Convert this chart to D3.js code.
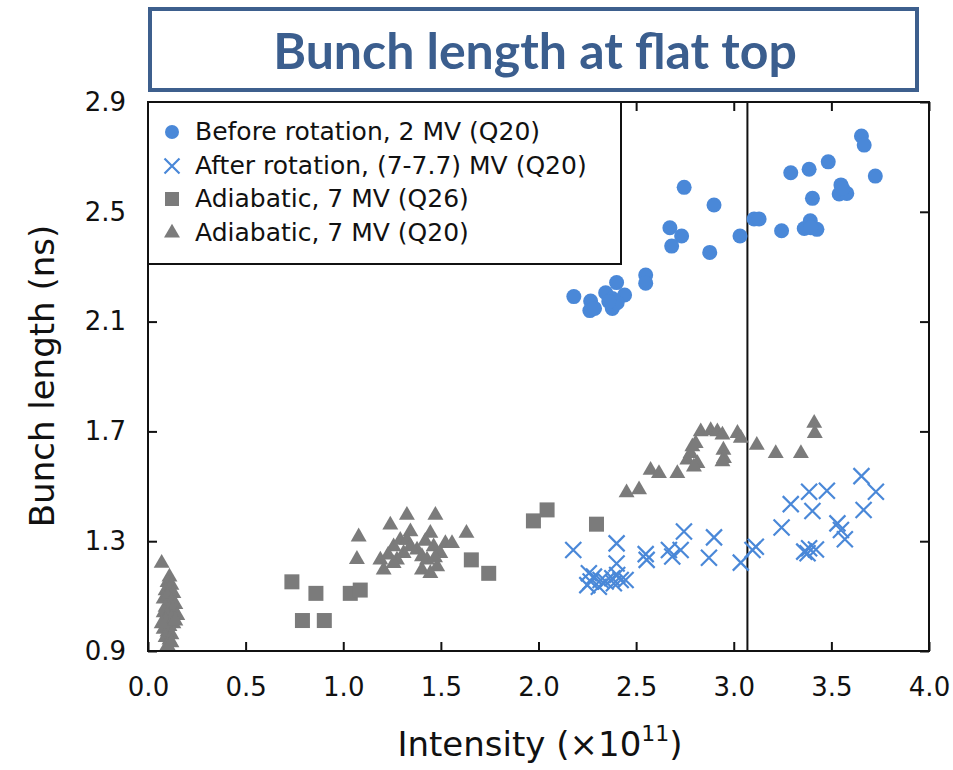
<!DOCTYPE html>
<html lang="en">
<head>
<meta charset="UTF-8">
<title>Bunch length at flat top</title>
<script src="https://d3js.org/d3.v7.min.js"></script>
<style>
	body { margin: 0; background: #fff; }
	svg { display: block; }
	.tick text { font-family: "DejaVu Sans", sans-serif; }
</style>
</head>
<body>
<div id="chart"></div>
<script>

	// ---- data ----
	var xTicks = [0, 0.5, 1, 1.5, 2, 2.5, 3, 3.5, 4];
	var yTicks = [0.9, 1.3, 1.7, 2.1, 2.5, 2.9];
	var markerLine = 3.07;

	var beforeRot = [
		[2.746, 2.589], [2.899, 2.525], [2.673, 2.442], [2.733, 2.412], [2.682, 2.375],
		[2.877, 2.352], [3.032, 2.412], [3.104, 2.474], [3.130, 2.474], [3.245, 2.431],
		[3.361, 2.439], [3.392, 2.467], [3.426, 2.436], [3.395, 2.442], [3.292, 2.642],
		[3.386, 2.655], [3.484, 2.682], [3.403, 2.549], [3.549, 2.598], [3.540, 2.565],
		[3.579, 2.567], [3.557, 2.585], [3.654, 2.776], [3.668, 2.743], [3.725, 2.630],
		[2.181, 2.191], [2.267, 2.175], [2.263, 2.140], [2.287, 2.148], [2.344, 2.205],
		[2.378, 2.184], [2.400, 2.242], [2.441, 2.197], [2.378, 2.148], [2.403, 2.169],
		[2.360, 2.173], [2.549, 2.270], [2.549, 2.240]
	];

	var afterRot = [
		[2.178, 1.268], [2.400, 1.292], [2.400, 1.219], [2.258, 1.183], [2.267, 1.153],
		[2.284, 1.171], [2.309, 1.134], [2.344, 1.153], [2.378, 1.165], [2.403, 1.177],
		[2.421, 1.159], [2.446, 1.159], [2.250, 1.140], [2.318, 1.159], [2.386, 1.147],
		[2.549, 1.253], [2.554, 1.232], [2.668, 1.268], [2.685, 1.244], [2.728, 1.268],
		[2.745, 1.335], [2.873, 1.240], [2.899, 1.314], [3.036, 1.222], [3.113, 1.280],
		[3.096, 1.268], [3.245, 1.350], [3.292, 1.435], [3.386, 1.480], [3.477, 1.484],
		[3.403, 1.410], [3.361, 1.262], [3.386, 1.274], [3.421, 1.270], [3.378, 1.256],
		[3.531, 1.365], [3.549, 1.341], [3.569, 1.307], [3.654, 1.537], [3.728, 1.480],
		[3.665, 1.414]
	];

	var adiabQ26 = [
		[0.737, 1.152], [0.860, 1.110], [0.791, 1.011], [0.903, 1.011], [1.036, 1.110],
		[1.087, 1.122], [1.656, 1.232], [1.745, 1.183], [1.974, 1.374], [2.044, 1.414],
		[2.297, 1.362]
	];

	var adiabQ20 = [
		// near-zero column
		[0.07, 1.22], [0.11, 1.17], [0.10, 1.15], [0.12, 1.14], [0.09, 1.12], [0.11, 1.12],
		[0.13, 1.11], [0.08, 1.09], [0.10, 1.10], [0.12, 1.08], [0.14, 1.07], [0.09, 1.06],
		[0.11, 1.05], [0.13, 1.05], [0.08, 1.04], [0.15, 1.03], [0.10, 1.03], [0.12, 1.02],
		[0.09, 1.01], [0.11, 0.99], [0.13, 1.00], [0.08, 0.98], [0.10, 0.97], [0.12, 0.96],
		[0.09, 0.95], [0.11, 0.94], [0.10, 0.92], [0.12, 0.93], [0.14, 1.01], [0.07, 1.00],
		// 1.0 - 1.7 cluster
		[1.079, 1.316], [1.070, 1.234], [1.241, 1.359], [1.326, 1.395], [1.472, 1.395],
		[1.344, 1.335], [1.631, 1.329], [1.190, 1.232], [1.207, 1.195], [1.258, 1.280],
		[1.275, 1.232], [1.292, 1.304], [1.309, 1.256], [1.378, 1.268], [1.403, 1.195],
		[1.429, 1.232], [1.446, 1.329], [1.463, 1.280], [1.481, 1.207], [1.497, 1.256],
		[1.523, 1.292], [1.557, 1.292], [1.403, 1.244], [1.258, 1.219], [1.326, 1.304],
		[1.446, 1.183], [1.344, 1.280], [1.230, 1.250], [1.420, 1.300], [1.470, 1.240],
		// 2.4 - 3.5
		[2.451, 1.477], [2.515, 1.488], [2.574, 1.559], [2.617, 1.547], [2.711, 1.547],
		[2.762, 1.596], [2.779, 1.620], [2.788, 1.644], [2.805, 1.656], [2.814, 1.583],
		[2.796, 1.571], [2.831, 1.699], [2.882, 1.703], [2.916, 1.699], [2.942, 1.687],
		[3.019, 1.693], [3.036, 1.675], [2.947, 1.632], [2.950, 1.602], [2.942, 1.590],
		[3.118, 1.650], [3.215, 1.620], [3.344, 1.620], [3.412, 1.730], [3.415, 1.693]
	];

	var legendLabels = [
		"Before rotation, 2 MV (Q20)",
		"After rotation, (7-7.7) MV (Q20)",
		"Adiabatic, 7 MV (Q26)",
		"Adiabatic, 7 MV (Q20)"
	];

	var blue = "#4a88d8";
	var grey = "#7b7b7b";

	// ---- layout ----
	var W = 953, H = 770;
	var pL = 148, pR = 929, pT = 102, pB = 651;

	var svg = d3.select("#chart").append("svg")
		.attr("width", W)
		.attr("height", H);

	var x = d3.scaleLinear().domain([0, 4]).range([pL, pR]);
	var y = d3.scaleLinear().domain([0.9, 2.9]).range([pB, pT]);

	// title box
	svg.append("rect")
		.attr("x", 150).attr("y", 9)
		.attr("width", 767).attr("height", 81)
		.attr("fill", "#fff")
		.attr("stroke", "#3d5f8d")
		.attr("stroke-width", 4);
	svg.append("text")
		.attr("x", 535).attr("y", 69)
		.attr("text-anchor", "middle")
		.attr("font-family", "Lato, 'Open Sans', sans-serif")
		.attr("font-weight", "bold")
		.attr("font-size", 50)
		.attr("fill", "#3b5e8e")
		.text("Bunch length at flat top");

	// axes (ticks point inwards)
	var fmt = d3.format(".1f");
	var gx = svg.append("g").attr("transform", "translate(0," + pB + ")")
		.call(d3.axisBottom(x).tickValues(xTicks).tickFormat(fmt).tickSizeInner(-9).tickSizeOuter(0).tickPadding(27));
	var gxt = svg.append("g").attr("transform", "translate(0," + pT + ")")
		.call(d3.axisTop(x).tickValues(xTicks).tickFormat("").tickSizeInner(-9).tickSizeOuter(0));
	var gy = svg.append("g").attr("transform", "translate(" + pL + ",0)")
		.call(d3.axisLeft(y).tickValues(yTicks).tickFormat(fmt).tickSizeInner(-9).tickSizeOuter(0).tickPadding(22));
	var gyr = svg.append("g").attr("transform", "translate(" + pR + ",0)")
		.call(d3.axisRight(y).tickValues(yTicks).tickFormat("").tickSizeInner(-9).tickSizeOuter(0));

	[gx, gxt, gy, gyr].forEach(function (g) {
		g.select(".domain").remove();
		g.selectAll("line").attr("stroke", "#111").attr("stroke-width", 2);
		g.selectAll("text").attr("font-size", 26).attr("fill", "#111");
	});

	// frame
	svg.append("rect")
		.attr("x", pL).attr("y", pT)
		.attr("width", pR - pL).attr("height", pB - pT)
		.attr("fill", "none")
		.attr("stroke", "#111")
		.attr("stroke-width", 2);

	// vertical marker line
	svg.append("line")
		.attr("x1", x(markerLine)).attr("x2", x(markerLine))
		.attr("y1", pT).attr("y2", pB)
		.attr("stroke", "#111")
		.attr("stroke-width", 2);

	// ---- symbols ----
	var tri = d3.symbol().type(d3.symbolTriangle).size(110);
	var plot = svg.append("g");

	plot.selectAll(".q26").data(adiabQ26).enter()
		.append("rect")
		.attr("x", function (d) { return x(d[0]) - 7.5; })
		.attr("y", function (d) { return y(d[1]) - 7.5; })
		.attr("width", 15).attr("height", 15)
		.attr("fill", grey);

	plot.selectAll(".q20").data(adiabQ20).enter()
		.append("path")
		.attr("d", tri)
		.attr("transform", function (d) { return "translate(" + x(d[0]) + "," + y(d[1]) + ")"; })
		.attr("fill", grey);

	plot.selectAll(".before").data(beforeRot).enter()
		.append("circle")
		.attr("cx", function (d) { return x(d[0]); })
		.attr("cy", function (d) { return y(d[1]); })
		.attr("r", 7.5)
		.attr("fill", blue);

	function cross(g, cx, cy, s) {
		g.append("path")
			.attr("d", "M" + (cx - s) + "," + (cy - s) + "L" + (cx + s) + "," + (cy + s) +
				"M" + (cx - s) + "," + (cy + s) + "L" + (cx + s) + "," + (cy - s))
			.attr("stroke", blue)
			.attr("stroke-width", 2.2)
			.attr("fill", "none");
	}
	afterRot.forEach(function (d) { cross(plot, x(d[0]), y(d[1]), 8); });

	// ---- legend ----
	var lg = svg.append("g");
	lg.append("rect")
		.attr("x", pL).attr("y", pT)
		.attr("width", 473).attr("height", 162)
		.attr("fill", "#fff")
		.attr("stroke", "#111")
		.attr("stroke-width", 2);

	var ly = [132, 166, 199, 233];
	lg.append("circle").attr("cx", 172).attr("cy", ly[0]).attr("r", 7).attr("fill", blue);
	cross(lg, 172, ly[1], 7.5);
	lg.append("rect").attr("x", 165).attr("y", ly[2] - 7).attr("width", 14).attr("height", 14).attr("fill", grey);
	lg.append("path").attr("d", tri).attr("transform", "translate(172," + ly[3] + ")").attr("fill", grey);

	lg.selectAll("text.lbl").data(legendLabels).enter()
		.append("text")
		.attr("class", "lbl")
		.attr("x", 195)
		.attr("y", function (d, i) { return ly[i] + 8; })
		.attr("font-family", "'DejaVu Sans', sans-serif")
		.attr("font-size", 25)
		.attr("fill", "#111")
		.text(function (d) { return d; });

	// axis titles
	svg.append("text")
		.attr("transform", "translate(54,376) rotate(-90)")
		.attr("text-anchor", "middle")
		.attr("font-family", "'DejaVu Sans', sans-serif")
		.attr("font-size", 34)
		.attr("fill", "#111")
		.text("Bunch length (ns)");

	var xl = svg.append("text")
		.attr("x", 540).attr("y", 756)
		.attr("text-anchor", "middle")
		.attr("font-family", "'DejaVu Sans', sans-serif")
		.attr("font-size", 34)
		.attr("fill", "#111");
	xl.append("tspan").text("Intensity (\u00d710");
	xl.append("tspan").attr("dy", -15).attr("font-size", 22).text("11");
	xl.append("tspan").attr("dy", 15).text(")");

</script>
</body>
</html>
